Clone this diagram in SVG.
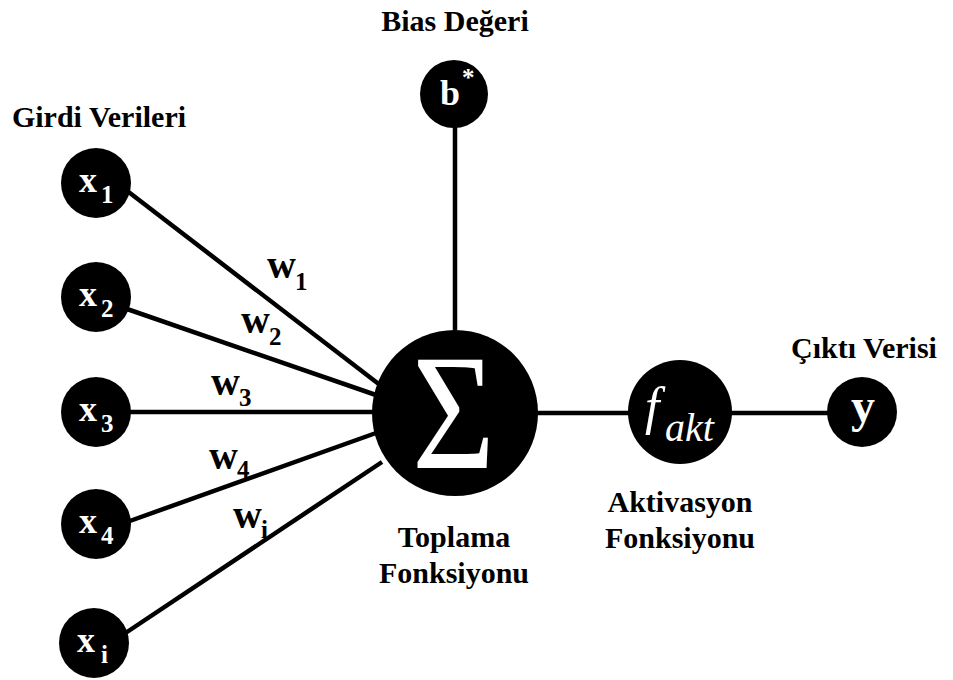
<svg xmlns="http://www.w3.org/2000/svg" width="953" height="680" viewBox="0 0 953 680">
<style>
text{font-family:"Times New Roman","Liberation Serif","DejaVu Serif",serif}
.n{fill:#000}
.c{stroke:#000;stroke-width:4.5;fill:none}
.lbl{font-weight:bold;font-size:30px;fill:#000}
.w{font-weight:bold;font-size:40px;fill:#000}
.ws{font-weight:bold;font-size:25px;fill:#000}
.xl{font-weight:bold;font-size:36px;fill:#fff}
.xs{font-weight:bold;font-size:25px;fill:#fff}
</style>
<rect width="953" height="680" fill="#fff"/>
<g id="connectors">
<line class="c" x1="455" y1="120" x2="455" y2="335"/>
<line class="c" x1="126" y1="190" x2="380" y2="385"/>
<line class="c" x1="127" y1="309" x2="376" y2="395"/>
<line class="c" x1="128" y1="412" x2="376" y2="412"/>
<line class="c" x1="127" y1="522" x2="376" y2="433"/>
<line class="c" x1="124" y1="634" x2="382" y2="462"/>
<line class="c" x1="535" y1="413" x2="632" y2="413"/>
<line class="c" x1="728" y1="413" x2="832" y2="413"/>
</g>
<g id="weights">
<text class="w" x="267" y="278">w</text><text class="ws" x="295" y="290">1</text>
<text class="w" x="241" y="333">w</text><text class="ws" x="269" y="345">2</text>
<text class="w" x="211" y="395">w</text><text class="ws" x="239" y="406">3</text>
<text class="w" x="209" y="469">w</text><text class="ws" x="237" y="478">4</text>
<text class="w" x="233" y="528">w</text><text class="ws" x="261" y="538">i</text>
</g>
<g id="x1"><circle class="n" cx="96" cy="183" r="35"/><text class="xl" x="79" y="192">x</text><text class="xs" x="101" y="203">1</text></g>
<g id="x2"><circle class="n" cx="96" cy="297" r="35"/><text class="xl" x="79" y="306">x</text><text class="xs" x="101" y="317">2</text></g>
<g id="x3"><circle class="n" cx="96" cy="412" r="35"/><text class="xl" x="79" y="421">x</text><text class="xs" x="101" y="432">3</text></g>
<g id="x4"><circle class="n" cx="96" cy="524" r="35"/><text class="xl" x="79" y="533">x</text><text class="xs" x="101" y="544">4</text></g>
<g id="xi"><circle class="n" cx="94" cy="643" r="35"/><text class="xl" x="77" y="652">x</text><text class="xs" x="101" y="663">i</text></g>
<g id="bias"><circle class="n" cx="454" cy="94" r="34"/><text class="xl" x="440" y="105" font-size="38">b</text><text class="xs" x="462" y="86">*</text></g>
<g id="sum"><circle class="n" cx="455" cy="413" r="83"/><text x="412" y="468" font-size="166" fill="#fff" textLength="83" lengthAdjust="spacingAndGlyphs">Σ</text></g>
<g id="fakt"><circle class="n" cx="680" cy="412" r="52"/><text x="645" y="424" font-style="italic" font-size="52" fill="#fff">f</text><text x="665" y="441" font-style="italic" font-size="40" fill="#fff">akt</text></g>
<g id="y"><circle class="n" cx="862" cy="412" r="35"/><text x="851" y="422" font-weight="bold" font-size="48" fill="#fff">y</text></g>
<g id="labels">
<text class="lbl" x="455" y="31" text-anchor="middle">Bias Değeri</text>
<text class="lbl" x="99" y="127" text-anchor="middle">Girdi Verileri</text>
<text class="lbl" x="864" y="358" text-anchor="middle">Çıktı Verisi</text>
<text class="lbl" x="454" y="547" text-anchor="middle">Toplama</text>
<text class="lbl" x="454" y="583" text-anchor="middle">Fonksiyonu</text>
<text class="lbl" x="680" y="512" text-anchor="middle">Aktivasyon</text>
<text class="lbl" x="680" y="548" text-anchor="middle">Fonksiyonu</text>
</g>
</svg>
